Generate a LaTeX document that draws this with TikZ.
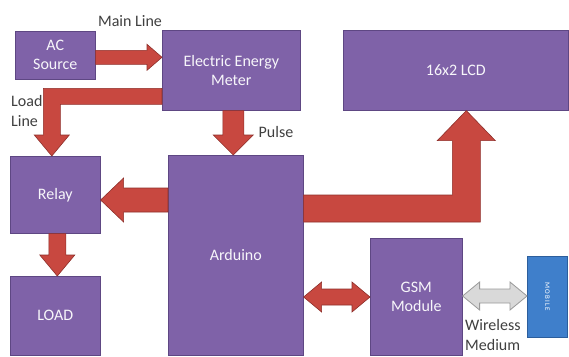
\documentclass[tikz,border=0pt]{standalone}
\usepackage{fontspec}
\setmainfont{Carlito}
\usetikzlibrary{calc}
\definecolor{purp}{HTML}{7F62A8}
\definecolor{purpD}{HTML}{5E4783}
\definecolor{redA}{HTML}{C84840}
\definecolor{redD}{HTML}{8E2F2A}
\definecolor{grayA}{HTML}{D9D9D9}
\definecolor{grayD}{HTML}{9A9A9A}
\definecolor{blueM}{HTML}{3F7FCB}
\definecolor{blueD}{HTML}{2C5E9C}
\definecolor{lbl}{HTML}{404040}
\tikzset{
  box/.style={fill=purp, draw=purpD, line width=0.6pt, text=white!94!purp, align=center,
    inner sep=0pt, anchor=north west, font=\fontsize{16}{19}\selectfont},
  arr/.style={fill=redA, draw=redD, line width=0.6pt, line join=miter},
  garr/.style={fill=grayA, draw=grayD, line width=0.8pt, line join=miter},
  lab/.style={text=lbl, inner sep=0pt, font=\fontsize{16}{19}\selectfont},
}
% right arrow: #1 start (y taken), #2 end (x taken), #3 shaft half, #4 head half, #5 head length, #6 style
\newcommand\blkR[6]{\path[#6] let \p1=#1, \p2=#2 in
  (\x1,\y1+#3) -- (\x2-#5,\y1+#3) -- (\x2-#5,\y1+#4) -- (\x2,\y1) -- (\x2-#5,\y1-#4) -- (\x2-#5,\y1-#3) -- (\x1,\y1-#3) -- cycle;}
\newcommand\blkL[6]{\path[#6] let \p1=#1, \p2=#2 in
  (\x1,\y1+#3) -- (\x2+#5,\y1+#3) -- (\x2+#5,\y1+#4) -- (\x2,\y1) -- (\x2+#5,\y1-#4) -- (\x2+#5,\y1-#3) -- (\x1,\y1-#3) -- cycle;}
\newcommand\blkLR[6]{\path[#6] let \p1=#1, \p2=#2 in
  (\x1,\y1) -- (\x1+#5,\y1+#4) -- (\x1+#5,\y1+#3) -- (\x2-#5,\y1+#3) -- (\x2-#5,\y1+#4) -- (\x2,\y1) -- (\x2-#5,\y1-#4) -- (\x2-#5,\y1-#3) -- (\x1+#5,\y1-#3) -- (\x1+#5,\y1-#4) -- cycle;}
\newcommand\blkD[6]{\path[#6] let \p1=#1, \p2=#2 in
  (\x1+#3,\y1) -- (\x1+#3,\y2+#5) -- (\x1+#4,\y2+#5) -- (\x1,\y2) -- (\x1-#4,\y2+#5) -- (\x1-#3,\y2+#5) -- (\x1-#3,\y1) -- cycle;}
\begin{document}
\begin{tikzpicture}[x=1pt,y=-1pt]
\useasboundingbox (0,0) rectangle (569,356);
\fill[white] (0,0) rectangle (569,356);

\node[box, minimum width=80pt, minimum height=48pt] (ac) at (15,31) {AC\\Source};
\node[box, minimum width=138pt, minimum height=80pt] (meter) at (162,30) {Electric Energy\\Meter};
\node[box, minimum width=225pt, minimum height=80pt] (lcd) at (343,30) {16x2 LCD};
\node[box, minimum width=90pt, minimum height=77pt] (relay) at (10,156) {Relay};
\node[box, minimum width=90pt, minimum height=79pt] (load) at (10,276) {LOAD};
\node[box, minimum width=135pt, minimum height=200pt] (arduino) at (168,155) {Arduino};
\node[box, minimum width=92pt, minimum height=117pt] (gsm) at (370,238) {GSM\\Module};
\node[box, fill=blueM, draw=blueD, minimum width=40pt, minimum height=81pt] (mobile) at (527,256) {};
\node[text=white, rotate=-90, inner sep=0pt, font=\fontsize{7}{8}\selectfont] at (mobile.center) {M\,O\,B\,I\,L\,E};

% Main line
\blkR{($(ac.east)+(0,2)$)}{(meter.west)}{7pt}{13pt}{15pt}{arr}
% Load line
\path[arr] let \p1=(meter.west), \p2=(relay.north) in
  (\x1,\y1-18pt) -- (\x2-12pt,\y1-18pt) -- (\x2-12pt,\y2+21pt) -- (\x2-21pt,\y2+21pt) -- (\x2-3.5pt,\y2)
  -- (\x2+14pt,\y2+21pt) -- (\x2+5pt,\y2+21pt) -- (\x2+5pt,\y1-34pt) -- (\x1,\y1-34pt) -- cycle;
% Pulse
\blkD{($(meter.south)+(2,0)$)}{(arduino.north)}{10.5pt}{20pt}{20pt}{arr}
% Relay -> Load
\blkD{($(relay.south)+(2,0)$)}{(load.north)}{8.5pt}{17.5pt}{21pt}{arr}
% Arduino -> Relay
\blkL{($(arduino.north west)+(0,45)$)}{(relay.east)}{12pt}{22pt}{23pt}{arr}
% Arduino -> LCD
\path[arr] let \p1=(arduino.north east), \p2=(lcd.south) in
  (\x1,\y1-40pt) -- (\x2-3.5pt,\y1-40pt) -- (\x2-3.5pt,\y2-30pt) -- (\x2-18.5pt,\y2-30pt) -- (\x2+10.5pt,\y2)
  -- (\x2+39.5pt,\y2-30pt) -- (\x2+24.5pt,\y2-30pt) -- (\x2+24.5pt,\y1-67pt) -- (\x1,\y1-67pt) -- cycle;
% Arduino <-> GSM
\blkLR{($(arduino.north east)+(0,142)$)}{(gsm.west)}{8pt}{15pt}{18pt}{arr}
% GSM <-> Mobile
\blkLR{($(gsm.north east)+(0,58)$)}{(mobile.west)}{7pt}{14pt}{17pt}{garr}

% labels
\node[lab] (lmain) at (130,21) {Main Line};
\node[lab, anchor=west] (lload) at (11,101) {Load};
\node[lab, anchor=west] (lline) at (11,121) {Line};
\node[lab] (lpulse) at (276,132) {Pulse};
\node[lab, anchor=west] (lwire) at (465,325) {Wireless};
\node[lab, anchor=west] (lmed) at (465,345) {Medium};
\end{tikzpicture}
\end{document}
